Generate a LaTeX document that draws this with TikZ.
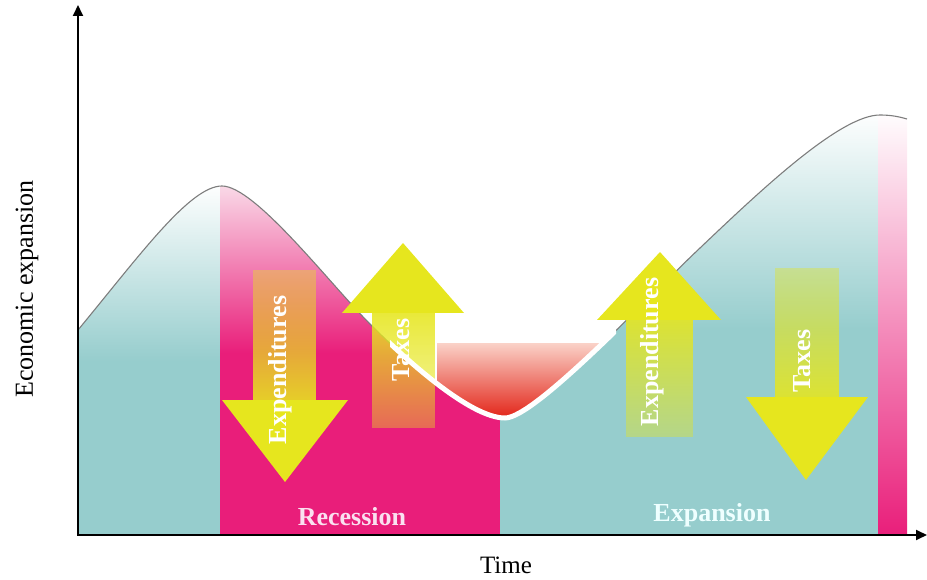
\documentclass[tikz,border=0pt]{standalone}
\usepackage{fontspec}
\setmainfont{Liberation Serif}
\usetikzlibrary{fadings,arrows.meta}
\definecolor{tealc}{RGB}{150,205,205}
\definecolor{magc}{RGB}{233,30,122}
\definecolor{lpink}{RGB}{250,220,233}
\definecolor{yelc}{RGB}{230,230,30}
\definecolor{bowlred}{RGB}{226,32,20}
\definecolor{bowlmid}{RGB}{240,105,75}
\definecolor{bowltop}{RGB}{250,210,200}
\definecolor{curvegray}{RGB}{125,125,125}
\definecolor{recc}{RGB}{250,225,240}
\definecolor{expc}{RGB}{238,255,255}
\tikzfading[name=fadetop, top color=transparent!62, bottom color=transparent!12]
\tikzfading[name=fadebot, top color=transparent!12, bottom color=transparent!62]
\tikzset{
  ylabel/.style={font=\fontsize{26}{30}\selectfont},
  inarrow/.style={text=white, font=\bfseries\fontsize{26}{30}\selectfont, rotate=90, inner sep=0pt},
  phase/.style={font=\bfseries\fontsize{26}{30}\selectfont, inner sep=0pt},
  headfill/.style={fill=yelc},
  axisline/.style={line width=1.8pt, {Triangle[width=10pt,length=11pt]}-{Triangle[width=10pt,length=11pt]}}
}
\begin{document}
\begin{tikzpicture}[x=1pt,y=-1pt]
\useasboundingbox (0,0) rectangle (927,580);
% backgrounds under the curve
\begin{scope}
\clip (78,535) -- (78,330) .. controls (140,255) and (190,186) .. (222,186)
  .. controls (255,186) and (330,284) .. (370,324)
  .. controls (405,359) and (470,418) .. (505,418)
  .. controls (535,418) and (650,295) .. (700,248)
  .. controls (760,191) and (840,115) .. (880,115)
  .. controls (892,115) and (900,117) .. (907,119) -- (907,535) -- cycle;
\fill[tealc] (78,360) rectangle (220,536);
\shade[top color=white, bottom color=tealc] (78,183) rectangle (220,361);
\fill[magc] (220,352) rectangle (500,536);
\shade[top color=lpink, bottom color=magc] (220,183) rectangle (500,353);
\fill[tealc] (500,328) rectangle (878,536);
\shade[top color=white, bottom color=tealc] (500,110) rectangle (878,329);
\shade[top color=white, middle color=magc!50!white, bottom color=magc] (878,110) rectangle (907,536);
\end{scope}
% curve line
\draw[curvegray, line width=1.1pt] (78,330) .. controls (140,255) and (190,186) .. (222,186)
  .. controls (255,186) and (330,284) .. (370,324)
  .. controls (405,359) and (470,418) .. (505,418)
  .. controls (535,418) and (650,295) .. (700,248)
  .. controls (760,191) and (840,115) .. (880,115)
  .. controls (892,115) and (900,117) .. (907,119);
% arrows
\fill[yelc, path fading=fadetop] (253,270) rectangle (316,400.5);
\fill[headfill] (222,400) -- (348,400) -- (285,482) -- cycle;
\fill[yelc, path fading=fadebot] (372,312.5) rectangle (435,428);
\fill[headfill] (342,313) -- (464,313) -- (403,243) -- cycle;
\fill[yelc, path fading=fadebot] (626,319.5) rectangle (693,437);
\fill[headfill] (597,320) -- (721,320) -- (660,252) -- cycle;
\fill[yelc, path fading=fadetop] (775,268) rectangle (839,397.5);
\fill[headfill] (746,397) -- (868,397) -- (806,480) -- cycle;
% red bowl above trough
\begin{scope}
\clip (78,330) .. controls (140,255) and (190,186) .. (222,186)
  .. controls (255,186) and (330,284) .. (370,324)
  .. controls (405,359) and (470,418) .. (505,418)
  .. controls (535,418) and (650,295) .. (700,248)
  .. controls (760,191) and (840,115) .. (880,115)
  .. controls (892,115) and (900,117) .. (907,119) -- (907,0) -- (78,0) -- cycle;
\shade[top color=bowltop, middle color=bowlmid, bottom color=bowlred] (437,343) rectangle (620,420);
\end{scope}
\begin{scope}
\clip (390,0) rectangle (616,580);
\draw[white, line width=5pt] (370,324)
  .. controls (405,359) and (470,418) .. (505,418)
  .. controls (535,418) and (650,295) .. (700,248);
\end{scope}
% axes
\coordinate (ytop) at (78,5);
\coordinate (origin) at (78,535);
\coordinate (xend) at (927,535);
\draw[axisline] (ytop) -- (origin) -- (xend);
% texts
\node[ylabel, rotate=90] (ylab) at (27,289) {Economic expansion};
\node[ylabel, font=\fontsize{25}{30}\selectfont] (xlab) at (506,565) {Time};
\node[phase, text=recc] (rec) at (352,517) {Recession};
\node[phase, text=expc] (exp) at (712,515) {Expansion};
\node[inarrow] (t1) at (280,370) {Expenditures};
\node[inarrow] (t2) at (401,350) {Taxes};
\node[inarrow] (t3) at (652,352) {Expenditures};
\node[inarrow] (t4) at (802,361) {Taxes};
\end{tikzpicture}
\end{document}
